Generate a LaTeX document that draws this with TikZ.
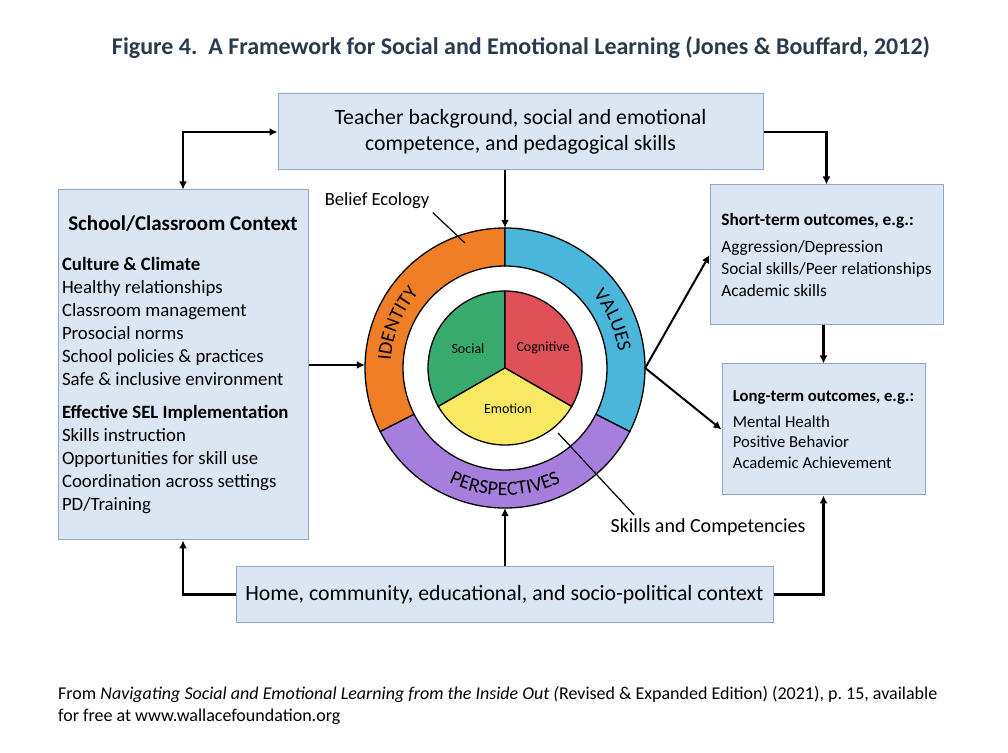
\documentclass[tikz,border=0pt]{standalone}
\usepackage{fontspec}
\setmainfont{Carlito}
\usetikzlibrary{arrows.meta,decorations.text}

\definecolor{boxfill}{RGB}{220,230,242}
\definecolor{boxline}{RGB}{140,168,200}
\definecolor{titlecol}{RGB}{43,58,78}
\definecolor{idcol}{RGB}{240,126,38}
\definecolor{valcol}{RGB}{74,182,218}
\definecolor{perscol}{RGB}{166,127,220}
\definecolor{soccol}{RGB}{56,170,110}
\definecolor{cogcol}{RGB}{224,80,88}
\definecolor{emocol}{RGB}{249,232,98}

\newcommand{\ringfont}{\fontsize{20}{22}\selectfont}

\tikzset{
  framebox/.style={draw=boxline, fill=boxfill, line width=1pt, inner sep=0pt},
  flow/.style={line width=2.4pt, -{Latex[length=8pt,width=8pt]}},
  flowboth/.style={line width=2.4pt, {Latex[length=8pt,width=8pt]}-{Latex[length=8pt,width=8pt]}},
  pointer/.style={line width=1.2pt},
}

\begin{document}
\begin{tikzpicture}[x=1pt, y=1pt]
\useasboundingbox (0,0) rectangle (1008,752);

% title
\node[font=\fontsize{24}{28}\selectfont\bfseries, text=titlecol] (title) at (521,704)
  {Figure 4.\ \ A Framework for Social and Emotional Learning (Jones \& Bouffard, 2012)};

% the boxes
\node[framebox, minimum width=485pt, minimum height=76pt, align=center,
  font=\fontsize{21.8}{26}\selectfont] (teacher) at (520.5,620)
  {Teacher background, social and emotional\\competence, and pedagogical skills};

\node[framebox, minimum width=250pt, minimum height=350pt, align=left,
  font=\fontsize{18.8}{23}\selectfont] (school) at (183,387)
  {\makebox[242pt]{\fontsize{21}{23}\selectfont\bfseries School/Classroom Context}\\[17pt]
  \textbf{Culture \& Climate}\\
  Healthy relationships\\
  Classroom management\\
  Prosocial norms\\
  School policies \& practices\\
  Safe \& inclusive environment\\[10pt]
  \textbf{Effective SEL Implementation}\\
  Skills instruction\\
  Opportunities for skill use\\
  Coordination across settings\\
  PD/Training};

\node[framebox, minimum width=233pt, minimum height=140pt, align=left,
  font=\fontsize{17.3}{22}\selectfont] (short) at (826.5,497)
  {\textbf{Short-term outcomes, e.g.:}\\[5pt]
  Aggression/Depression\\
  Social skills/Peer relationships\\
  Academic skills};

\node[framebox, minimum width=203pt, minimum height=131pt, align=left,
  font=\fontsize{16.7}{20.5}\selectfont] (long) at (823.5,322.5)
  {\textbf{Long-term outcomes, e.g.:}\\[5pt]
  Mental Health\\
  Positive Behavior\\
  Academic Achievement};

\node[framebox, minimum width=537pt, minimum height=55pt,
  font=\fontsize{21.8}{26}\selectfont] (home) at (504.5,157.5)
  {Home, community, educational, and socio-political context};

% belief ecology ring and skills pie
\node[circle, minimum size=280pt, inner sep=0pt] (ring) at (505,384) {};

\begin{scope}[shift={(ring.center)}, line width=1.3pt]
\filldraw[fill=idcol] (90:140) arc[start angle=90, end angle=207, radius=140]
  -- (207:102) arc[start angle=207, end angle=90, radius=102] -- cycle;
\filldraw[fill=valcol] (90:140) arc[start angle=90, end angle=-27, radius=140]
  -- (-27:102) arc[start angle=-27, end angle=90, radius=102] -- cycle;
\filldraw[fill=perscol] (207:140) arc[start angle=207, end angle=333, radius=140]
  -- (333:102) arc[start angle=333, end angle=207, radius=102] -- cycle;

\filldraw[fill=soccol] (0,0) -- (90:77) arc[start angle=90, end angle=210, radius=77] -- cycle;
\filldraw[fill=cogcol] (0,0) -- (-30:77) arc[start angle=-30, end angle=90, radius=77] -- cycle;
\filldraw[fill=emocol] (0,0) -- (210:77) arc[start angle=210, end angle=330, radius=77] -- cycle;

\path
 (-37,19) node[font=\fontsize{14}{16}\selectfont] (social) {Social}
 (38,20) node[font=\fontsize{14}{16}\selectfont] (cognitive) {Cognitive}
 (3,-41) node[font=\fontsize{14}{16}\selectfont] (emotion) {Emotion};

\path[decorate, decoration={text along path, text align=center, text={|\ringfont|IDENTITY}}]
  (200:114.5) arc[start angle=200, end angle=115, radius=114.5];
\path[decorate, decoration={text along path, text align=center, text={|\ringfont|VALUES}}]
  (65:114.5) arc[start angle=65, end angle=-17, radius=114.5];
\path[decorate, decoration={text along path, text align=center, text={|\ringfont|PERSPECTIVES}}]
  (225:127.5) arc[start angle=225, end angle=315, radius=127.5];
\end{scope}

% labels with pointers
\node[font=\fontsize{18.6}{22}\selectfont] (belief) at (377,551) {Belief Ecology};
\coordinate (beliefpt) at (465,509);
\draw[pointer] (belief.south east) -- (beliefpt);

\node[font=\fontsize{20}{22}\selectfont] (skills) at (708,225) {Skills and Competencies};
\coordinate (skillspt) at (558,319);
\draw[pointer] (skillspt) -- ([xshift=27pt]skills.north west);

% arrows
\draw[flowboth] (teacher.west) -| (school.north);
\draw[flow] (teacher.east) -| (short.north);
\draw[flow] (teacher.south -| ring.north) -- (ring.north);
\draw[flow] (school.east) -- (school.east -| ring.west);
\draw[flow, line width=2pt] (ring.east) -- (short.west);
\draw[flow, line width=2pt] (ring.east) -- (long.west);
\draw[flow] (short.south -| long.north) -- (long.north);
\draw[flow] (home.north -| ring.south) -- (ring.south);
\draw[flow] (home.west) -| (school.south);
\draw[flow] (home.east) -| (long.south);

% source
\node[anchor=north west, align=left, inner sep=0pt, font=\fontsize{18}{22}\selectfont] (source) at (58,66)
  {From \textit{Navigating Social and Emotional Learning from the Inside Out (}Revised \& Expanded Edition) (2021), p.~15, available\\
  for free at www.wallacefoundation.org};

\end{tikzpicture}
\end{document}
